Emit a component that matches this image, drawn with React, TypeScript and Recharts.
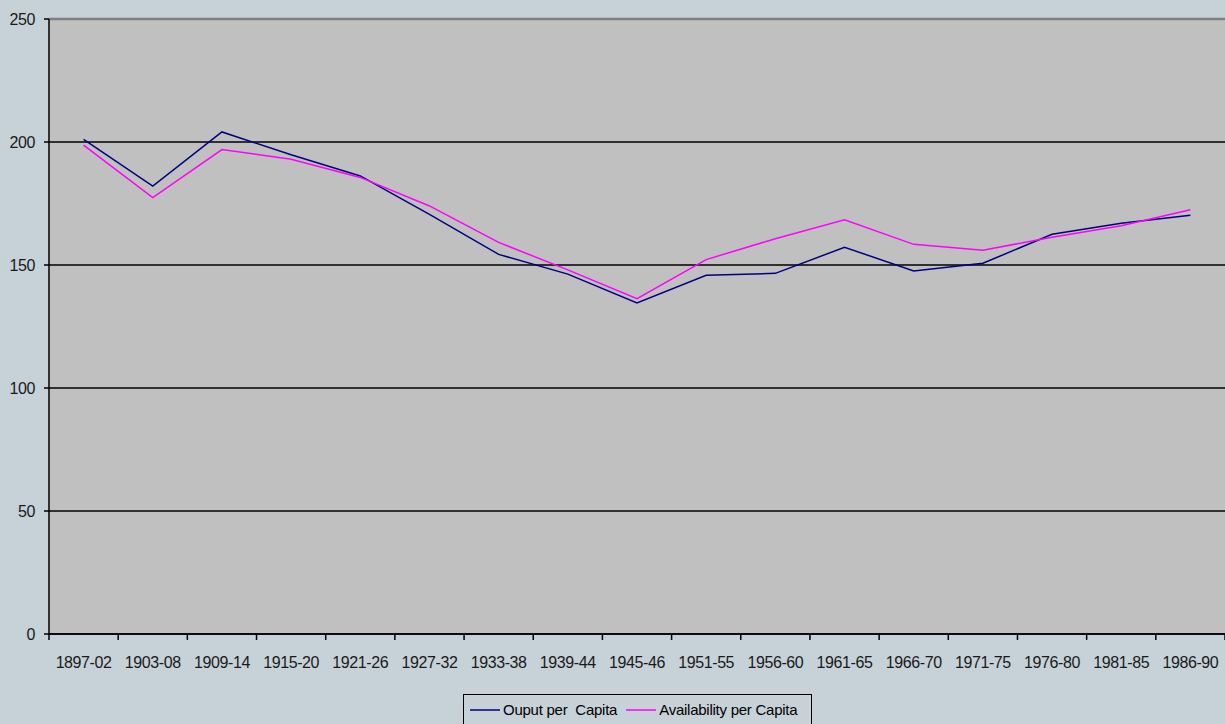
import React from "react";
import {
  LineChart,
  Line,
  XAxis,
  YAxis,
  CartesianGrid,
  Legend,
  ReferenceLine,
} from "recharts";

const periods = [
  "1897-02",
  "1903-08",
  "1909-14",
  "1915-20",
  "1921-26",
  "1927-32",
  "1933-38",
  "1939-44",
  "1945-46",
  "1951-55",
  "1956-60",
  "1961-65",
  "1966-70",
  "1971-75",
  "1976-80",
  "1981-85",
  "1986-90",
];

const outputPerCapita = [
  201.1, 182.1, 204.1, 194.8, 186.2, 170.6, 154.3, 146.3, 134.6, 145.8, 146.6,
  157.2, 147.6, 150.7, 162.5, 167.0, 170.2,
];

const availabilityPerCapita = [
  198.7, 177.4, 196.9, 193.0, 185.6, 174.0, 159.2, 148.0, 136.3, 152.2, 160.7,
  168.4, 158.4, 156.0, 161.3, 166.0, 172.5,
];

const yTicks = [0, 50, 100, 150, 200, 250];

const seriesNames = ["Ouput per  Capita", "Availability per Capita"];
const seriesColors = ["#000080", "#ff00ff"];

const data = periods.map((p, i) => ({
  name: p,
  output: outputPerCapita[i],
  availability: availabilityPerCapita[i],
}));

const W = 1225;
const H = 724;
const Y_W = 49;
const X_H = 90;
const TICK_SIZE = 6;
const TICK_MARGIN = 17;
const FONT = "'Liberation Sans', Arial, sans-serif";

// excel puts the x ticks between categories, so draw them ourselves
const XTick = (props: any) => {
  const { x, y, payload, index, width } = props;
  const plotW = typeof width === "number" && width > 0 ? width : W - Y_W;
  const half = plotW / periods.length / 2;
  const axisY = y - TICK_SIZE - TICK_MARGIN;
  return (
    <g>
      <line
        x1={x - half}
        x2={x - half}
        y1={axisY}
        y2={axisY + TICK_SIZE}
        stroke="#000"
        strokeWidth={1.5}
      />
      {index === periods.length - 1 && (
        <line
          x1={x + half}
          x2={x + half}
          y1={axisY}
          y2={axisY + TICK_SIZE}
          stroke="#000"
          strokeWidth={1.5}
        />
      )}
      <text
        x={x}
        y={y}
        dy="0.68em"
        textAnchor="middle"
        fill="#1a1a1a"
        fontSize={16}
        letterSpacing={-0.4}
        fontFamily={FONT}
      >
        {payload.value}
      </text>
    </g>
  );
};

// legend keeps the series order of the original
const LegendBox = () => (
  <div
    style={{
      border: "1px solid #000",
      height: 31,
      display: "flex",
      alignItems: "center",
      padding: "0 6px",
      fontFamily: FONT,
      fontSize: 15,
      letterSpacing: -0.25,
      color: "#000",
      boxSizing: "border-box",
      whiteSpace: "pre",
    }}
  >
    {seriesNames.map((name, i) => (
      <span
        key={name}
        style={{ display: "flex", alignItems: "center", marginRight: 9 }}
      >
        <svg width={30} height={4} style={{ marginRight: 3 }}>
          <line
            x1={0}
            x2={30}
            y1={2}
            y2={2}
            stroke={seriesColors[i]}
            strokeWidth={1.5}
          />
        </svg>
        {name}
      </span>
    ))}
  </div>
);

export default function App() {
  return (
    <div
      style={{
        position: "absolute",
        left: 0,
        top: 0,
        width: W,
        height: H,
        background: "#c7d1d8",
        fontFamily: FONT,
        overflow: "hidden",
      }}
    >
      <LineChart
        width={W}
        height={H}
        data={data}
        margin={{ top: 19, right: 0, bottom: 0, left: 0 }}
      >
        <CartesianGrid
          vertical={false}
          fill="#c0c0c0"
          stroke="#000"
          strokeWidth={1.5}
          fillOpacity={1}
        />
        <XAxis
          dataKey="name"
          scale="band"
          height={X_H}
          tickLine={false}
          tickSize={TICK_SIZE}
          tickMargin={TICK_MARGIN}
          axisLine={{ stroke: "#000", strokeWidth: 1.5 }}
          tick={<XTick />}
          interval={0}
        />
        <YAxis
          width={Y_W}
          domain={[0, 250]}
          ticks={yTicks}
          interval={0}
          tickSize={5}
          tickMargin={9}
          axisLine={{ stroke: "#000", strokeWidth: 1.5 }}
          tickLine={{ stroke: "#000", strokeWidth: 1.5 }}
          tick={{
            fill: "#1a1a1a",
            fontSize: 16,
            fontFamily: FONT,
            letterSpacing: -0.4,
          }}
        />
        <ReferenceLine y={250} stroke="#808080" strokeWidth={2.5} />
        <Line
          type="linear"
          dataKey="output"
          name={seriesNames[0]}
          stroke={seriesColors[0]}
          strokeWidth={1.5}
          dot={false}
          isAnimationActive={false}
        />
        <Line
          type="linear"
          dataKey="availability"
          name={seriesNames[1]}
          stroke={seriesColors[1]}
          strokeWidth={1.5}
          dot={false}
          isAnimationActive={false}
        />
        <Legend
          layout="vertical"
          align="center"
          verticalAlign="middle"
          content={<LegendBox />}
          wrapperStyle={{ left: 463, top: 694, width: 349, height: 31 }}
        />
      </LineChart>
    </div>
  );
}
